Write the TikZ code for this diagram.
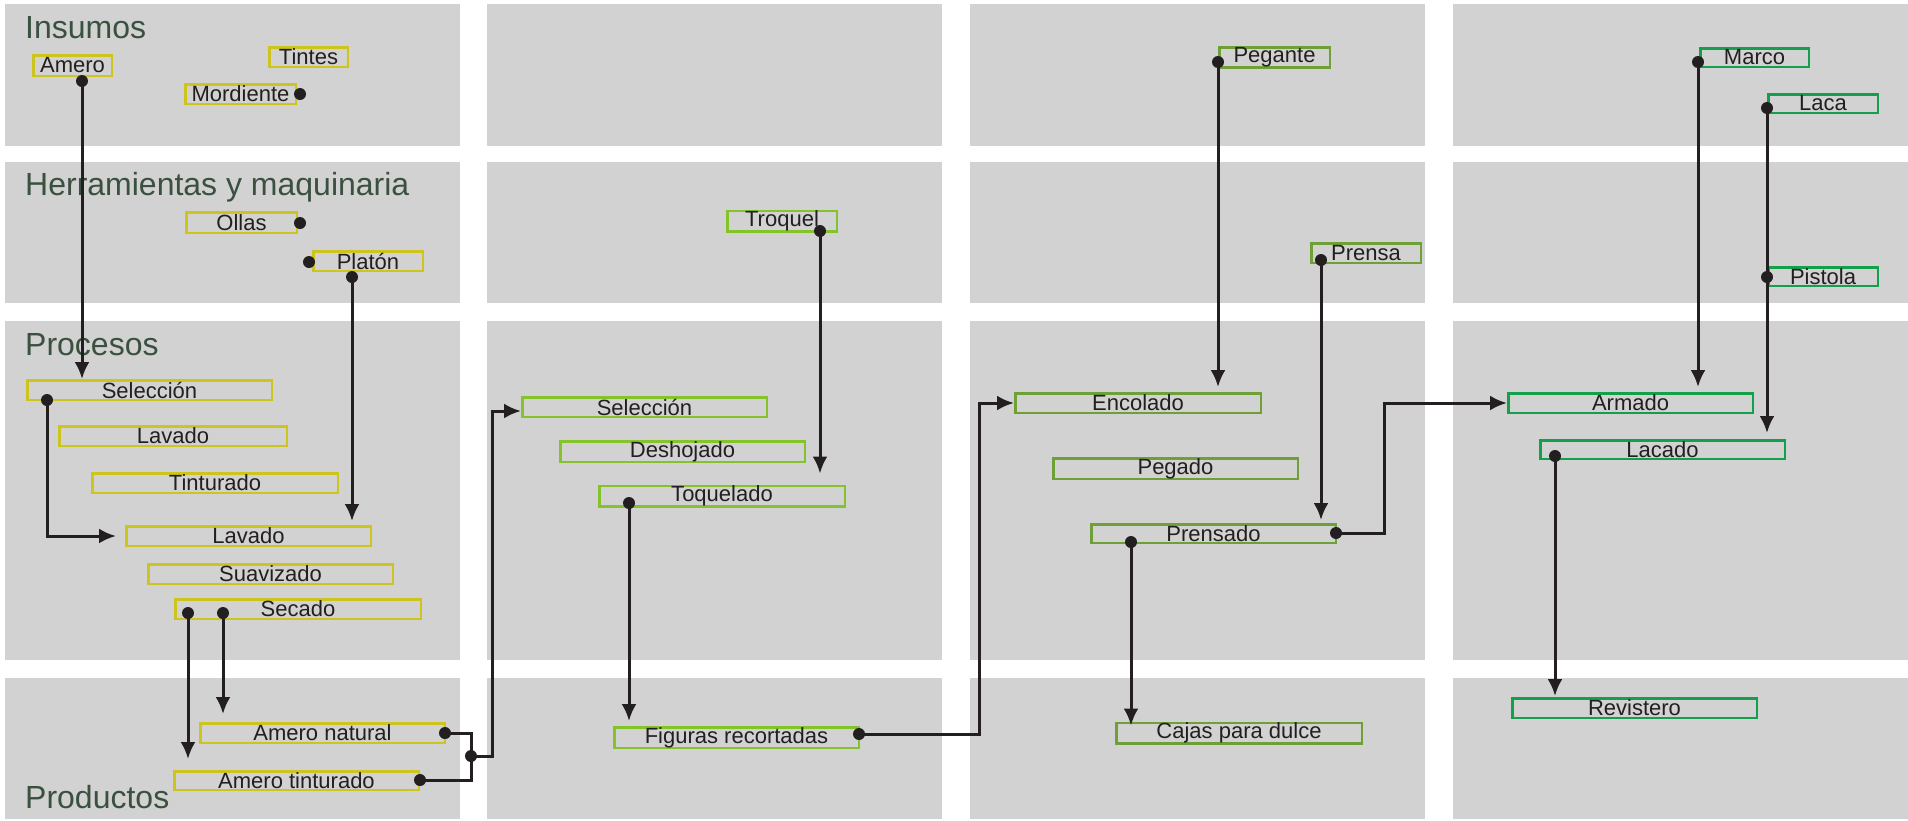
\documentclass[tikz,border=0pt]{standalone}
\usepackage{fontspec}
\setmainfont{Liberation Sans}
\usetikzlibrary{arrows.meta}
\definecolor{panel}{RGB}{210,210,210}
\definecolor{cY}{RGB}{205,196,30}
\definecolor{cL}{RGB}{132,195,41}
\definecolor{cO}{RGB}{110,160,55}
\definecolor{cG}{RGB}{20,160,75}
\definecolor{ink}{RGB}{35,31,32}
\definecolor{ttl}{RGB}{59,81,64}
\newcommand\bx[7]{\node[pbox, draw=#7, minimum width={(#4-#2-2.5)*1pt}, minimum height={(#5-#3-2.5)*1pt}] (#1) at ({(#2+#4)/2},{(#3+#5)/2}) {#6};}
\begin{document}
\begin{tikzpicture}[x=1pt,y=-1pt,
 pbox/.style={line width=2.5pt, inner sep=0pt, text=ink, font=\fontsize{22}{22}\selectfont},
 ttlst/.style={anchor=base west, inner sep=0pt, text=ttl, font=\fontsize{32}{32}\selectfont},
 conn/.style={draw=ink, line width=3pt},
 arr/.style={conn, -{Latex[length=17pt,width=15pt]}},
 dot/.style={fill=ink}
 ]
\useasboundingbox (0,0) rectangle (1908,820);
\foreach \cx in {5,487,970,1453}{
  \fill[panel] (\cx,4) rectangle ++(455,142);
  \fill[panel] (\cx,162) rectangle ++(455,141);
  \fill[panel] (\cx,321) rectangle ++(455,339);
  \fill[panel] (\cx,678) rectangle ++(455,141);
}
\node[ttlst] (tIns) at (25,38) {Insumos};
\node[ttlst] (tHer) at (25,195) {Herramientas y maquinaria};
\node[ttlst] (tPro) at (25,355) {Procesos};
\node[ttlst] (tPrd) at (25,808) {Productos};

% column 1
\bx{amero}{32}{54}{113}{77}{Amero}{cY}
\bx{tintes}{268}{46}{349}{68}{Tintes}{cY}
\bx{mordiente}{184}{83}{297}{105}{Mordiente}{cY}
\bx{ollas}{185}{211}{298}{234}{Ollas}{cY}
\bx{platon}{312}{250}{424}{272}{Platón}{cY}
\bx{sel1}{26}{379}{273}{401}{Selección}{cY}
\bx{lav1}{58}{425}{288}{447}{Lavado}{cY}
\bx{tint}{91}{472}{339}{494}{Tinturado}{cY}
\bx{lav2}{125}{525}{372}{547}{Lavado}{cY}
\bx{suav}{147}{563}{394}{585}{Suavizado}{cY}
\bx{sec}{174}{598}{422}{620}{Secado}{cY}
\bx{nat}{199}{722}{446}{744}{Amero natural}{cY}
\bx{tin}{173}{770}{420}{791}{Amero tinturado}{cY}
% column 2
\bx{troquel}{726}{210}{838}{232}{Troquel}{cL}
\bx{sel2}{521}{396}{768}{418}{Selección}{cL}
\bx{desh}{559}{441}{806}{462}{Deshojado}{cL}
\bx{toq}{598}{485}{846}{507}{Toquelado}{cL}
\bx{fig}{613}{727}{860}{748}{Figuras recortadas}{cL}
% column 3
\bx{pegante}{1218}{47}{1331}{68}{Pegante}{cO}
\bx{prensa}{1310}{242}{1422}{264}{Prensa}{cO}
\bx{enc}{1014}{392}{1262}{414}{Encolado}{cO}
\bx{peg}{1052}{458}{1299}{479}{Pegado}{cO}
\bx{prens}{1090}{523}{1337}{544}{Prensado}{cO}
\bx{cajas}{1115}{722}{1363}{744}{Cajas para dulce}{cO}
% column 4
\bx{marco}{1699}{47}{1810}{68}{Marco}{cG}
\bx{laca}{1767}{93}{1879}{114}{Laca}{cG}
\bx{pistola}{1767}{266}{1879}{287}{Pistola}{cG}
\bx{arm}{1507}{392}{1754}{414}{Armado}{cG}
\bx{lac}{1539}{439}{1786}{460}{Lacado}{cG}
\bx{rev}{1511}{697}{1758}{719}{Revistero}{cG}

% connection points
\coordinate (dAmero) at (82,81);
\coordinate (dMord) at (300,94);
\coordinate (dOllas) at (300,223);
\coordinate (dPlatL) at (309,262);
\coordinate (dPlaton) at (352,277);
\coordinate (dSel1) at (47,400);
\coordinate (dSec1) at (188,613);
\coordinate (dSec2) at (223,613);
\coordinate (dNat) at (445,733);
\coordinate (dTin) at (420,780);
\coordinate (jn) at (471,756);
\coordinate (dTroq) at (820,231);
\coordinate (dToq) at (629,503);
\coordinate (dFig) at (859,734);
\coordinate (dPeg) at (1218,62);
\coordinate (dPrensa) at (1321,260);
\coordinate (dPrensB) at (1131,542);
\coordinate (dPrensR) at (1336,533);
\coordinate (dMarco) at (1698,62);
\coordinate (dLaca) at (1767,108);
\coordinate (dPist) at (1767,277);
\coordinate (dLac) at (1555,456);

% connectors
\draw[arr] (dAmero) -- (dAmero |- sel1.north);
\draw[arr, shorten >=4pt] (dPlaton) -- (dPlaton |- lav2.north);
\draw[arr, shorten >=9pt] (dSel1) |- (lav2.west);
\draw[arr, shorten >=11pt] (dSec1) -- (dSec1 |- tin.north);
\draw[arr, shorten >=8pt] (dSec2) -- (dSec2 |- nat.north);
\draw[conn] (dNat) -| (jn);
\draw[conn] (dTin) -| (jn);
\draw[arr] (jn) -- ++(21,0) |- ([yshift=-4pt]sel2.west);
\draw[arr, shorten >=11pt] (dTroq) -- (dTroq |- toq.north);
\draw[arr, shorten >=5pt] (dToq) -- (dToq |- fig.north);
\draw[arr] (dFig) -- ++(120,0) |- (enc.west);
\draw[arr, shorten >=5pt] (dPeg) -- (dPeg |- enc.north);
\draw[arr, shorten >=3pt] (dPrensa) -- (dPrensa |- prens.north);
\draw[arr, shorten >=-4pt] (dPrensB) -- (dPrensB |- cajas.north);
\draw[arr] (dPrensR) -- ++(48,0) |- (arm.west);
\draw[arr, shorten >=5pt] (dMarco) -- (dMarco |- arm.north);
\draw[arr, shorten >=6pt] (dLaca) -- (dLaca |- lac.north);
\draw[arr, shorten >=1pt] (dLac) -- (dLac |- rev.north);

% dots
\foreach \p in {dAmero,dMord,dOllas,dPlatL,dPlaton,dSel1,dSec1,dSec2,dNat,dTin,jn,dTroq,dToq,dFig,dPeg,dPrensa,dPrensB,dPrensR,dMarco,dLaca,dPist,dLac}
  \fill[dot] (\p) circle (6pt);
\end{tikzpicture}
\end{document}
